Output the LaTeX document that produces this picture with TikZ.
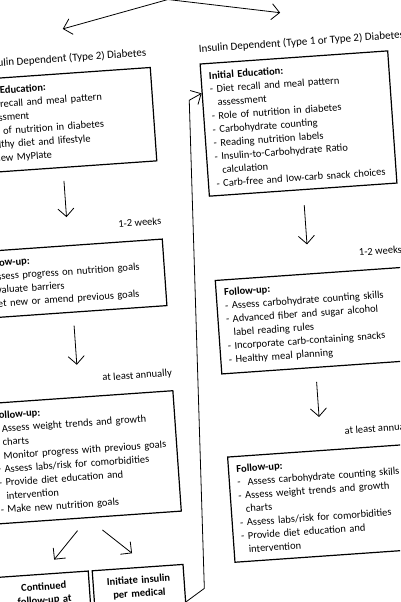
\documentclass[tikz,border=0pt]{standalone}
\usepackage{fontspec}
\setmainfont{Carlito}
\usepackage{tikz}
\usetikzlibrary{arrows.meta}

\newcommand{\ind}{\hphantom{- }}

\tikzset{
  stepbox/.style={draw, line width=1.2pt, text width=172pt, align=left,
    inner xsep=8pt, inner ysep=8.5pt, anchor=north west,
    font=\fontsize{10.5}{13.5}\selectfont},
  endbox/.style={draw, line width=1.2pt, text width=75pt, align=center,
    inner xsep=8pt, inner ysep=8.5pt, anchor=north west,
    font=\fontsize{10.5}{13.5}\selectfont\bfseries},
  head/.style={font=\fontsize{11}{13}\selectfont, inner sep=0pt},
  when/.style={font=\fontsize{10.5}{13}\selectfont, inner sep=0pt, anchor=base east},
}

\begin{document}
\begin{tikzpicture}[x=1pt,y=-1pt,>={Straight Barb[length=8pt,width=16pt]},line width=0.8pt]
  \useasboundingbox (0,0) rectangle (400,602);
  \clip (0,0) rectangle (400,602);
  \begin{scope}[shift={(200,300)},rotate=4,transform shape]
    % split at the top
    \coordinate (split) at (-11,-302);
    \coordinate (toleft) at (-118,-280);
    \coordinate (toright) at (100,-281);
    \draw[->] (split) -- (toleft);
    \draw[->] (split) -- (toright);

    \node[head, anchor=base east] (hleft) at (-36,-247) {Non-Insulin Dependent (Type 2) Diabetes};
    \node[head, anchor=base west] (hright) at (16,-247) {Insulin Dependent (Type 1 or Type 2) Diabetes};

    % left column
    \node[stepbox] (lb1) at (-222,-236) {\textbf{Initial Education:}\\
      - Diet recall and meal pattern\\ \ind assessment\\
      - Role of nutrition in diabetes\\
      - Healthy diet and lifestyle\\
      - Review MyPlate};
    \node[stepbox] (lb2) at (-222,-64) {\textbf{Follow-up:}\\
      - Assess progress on nutrition goals\\
      - Evaluate barriers\\
      - Set new or amend previous goals};
    \node[stepbox] (lb3) at (-222,88) {\textbf{Follow-up:}\\
      - Assess weight trends and growth\\ \ind charts\\
      - Monitor progress with previous goals\\
      - Assess labs/risk for comorbidities\\
      - Provide diet education and\\ \ind intervention\\
      - Make new nutrition goals};
    \node[endbox] (cont) at (-222,262) {Continued\\follow-up at\\\strut};
    \node[endbox] (init) at (-127,262) {Initiate insulin\\per medical\\\strut};

    \node[when] (lw1) at ([yshift=14pt]lb2.north east) {1-2 weeks};
    \node[when] (lw2) at ([yshift=14pt]lb3.north east) {at least annually};
    \draw[->, shorten <=13pt, shorten >=28pt] (lb1) -- (lb2);
    \draw[->, shorten <=13pt, shorten >=32pt] (lb2) -- (lb3);
    \draw[->, shorten <=16pt, shorten >=18pt] (lb3.south) -- (cont.north);
    \draw[->, shorten <=19pt, shorten >=21pt] (lb3.south) -- ([xshift=11pt]init.north);

    % right column
    \node[stepbox] (rb1) at (16,-236) {\textbf{Initial Education:}\\
      - Diet recall and meal pattern\\ \ind assessment\\
      - Role of nutrition in diabetes\\
      - Carbohydrate counting\\
      - Reading nutrition labels\\
      - Insulin-to-Carbohydrate Ratio\\ \ind calculation\\
      - Carb-free and low-carb snack choices};
    \node[stepbox] (rb2) at (16,-19) {\textbf{Follow-up:}\\
      - Assess carbohydrate counting skills\\
      - Advanced fiber and sugar alcohol\\ \ind label reading rules\\
      - Incorporate carb-containing snacks\\
      - Healthy meal planning};
    \node[stepbox] (rb3) at (16,158) {\textbf{Follow-up:}\\
      - \ Assess carbohydrate counting skills\\
      - Assess weight trends and growth\\ \ind charts\\
      - Assess labs/risk for comorbidities\\
      - Provide diet education and\\ \ind intervention};

    \node[when] (rw1) at ([yshift=14pt]rb2.north east) {1-2 weeks};
    \node[when] (rw2) at ([yshift=14pt]rb3.north east) {at least annually};
    \draw[->, shorten <=15pt, shorten >=29pt] (rb1) -- (rb2);
    \draw[->, shorten <=14pt, shorten >=33pt] (rb2) -- (rb3);

    % insulin loop back to the right column
    \draw[->] ([yshift=-38pt]init.north east) -- ++(19,-12) -- ++(19,-488)
      -- ([yshift=-30pt]rb1.north west);
  \end{scope}
\end{tikzpicture}
\end{document}
